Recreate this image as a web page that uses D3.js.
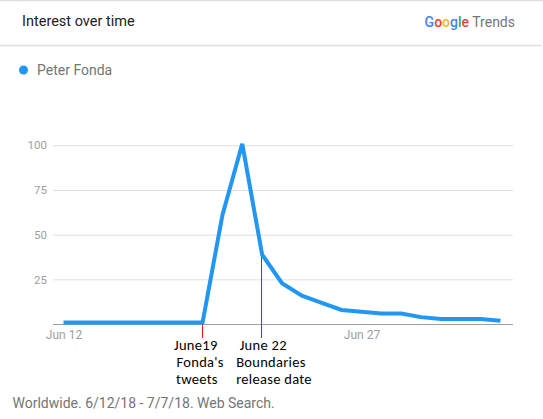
<!DOCTYPE html>
<html><head><meta charset="utf-8">
<script src="https://cdn.jsdelivr.net/npm/d3@7"></script>
<style>
html,body{margin:0;padding:0;background:#fff;}
svg{display:block;}
</style></head>
<body>
<script>
// ---- data ----
const dates = ["2018-06-12","2018-06-13","2018-06-14","2018-06-15","2018-06-16","2018-06-17","2018-06-18","2018-06-19","2018-06-20","2018-06-21","2018-06-22","2018-06-23","2018-06-24","2018-06-25","2018-06-26","2018-06-27","2018-06-28","2018-06-29","2018-06-30","2018-07-01","2018-07-02","2018-07-03","2018-07-04"];
const values = [0,0,0,0,0,0,0,0,60,100,38,22,15,11,7,6,5,5,3,2,2,2,1];
const yTicks = [25,50,75,100];
const xTickDates = ["2018-06-12","2018-06-27"];
const xTickLabels = ["Jun 12","Jun 27"];
const seriesName = "Peter Fonda";
const annotationDates = ["2018-06-19","2018-06-22"];
const annotationLines = [["June19","Fonda's","tweets"],["June 22","Boundaries","release date"]];
const footer = "Worldwide. 6/12/18 - 7/7/18. Web Search.";

// layout (offsets of annotation text lines from the marker, px)
const annotationOffsets = [[-28.5,-26,-26.5],[-22.5,-26,-26]];

const W = 543, H = 419;
const parse = d3.utcParse("%Y-%m-%d");
const data = dates.map((d,i)=>({date:parse(d), value:values[i]}));

const svg = d3.select("body").append("svg").attr("width",W).attr("height",H);

// frame lines
svg.append("line").attr("x1",0).attr("x2",W).attr("y1",0.5).attr("y2",0.5).attr("stroke","#e0e0e0").attr("stroke-width",1.5);
svg.append("line").attr("x1",0).attr("x2",W-1).attr("y1",45.5).attr("y2",45.5).attr("stroke","#e0e0e0").attr("stroke-width",1.5);

// header
svg.append("text").attr("x",22).attr("y",26).text("Interest over time")
  .attr("font-family","Roboto, sans-serif").attr("font-size",14.5).attr("fill","#212121");

const logo = svg.append("text").attr("x",515).attr("y",27).attr("text-anchor","end")
  .attr("font-family","Roboto, sans-serif").attr("font-size",14);
const gl = [["G","#4285F4"],["o","#EA4335"],["o","#FBBC05"],["g","#4285F4"],["l","#34A853"],["e","#EA4335"]];
gl.forEach(([c,col])=>logo.append("tspan").text(c).attr("fill",col).attr("font-weight",500));
logo.append("tspan").text(" Trends").attr("fill","#757575");

// legend
svg.append("circle").attr("cx",23.5).attr("cy",70).attr("r",4.5).attr("fill","#2196F3");
svg.append("text").attr("x",37).attr("y",75).text(seriesName)
  .attr("font-family","Roboto, sans-serif").attr("font-size",14).attr("fill","#757575");

// scales
const x = d3.scaleUtc().domain([parse(dates[0]), parse(dates[dates.length-1])]).range([63.5, 500.5]);
const y = d3.scaleLinear().domain([0,100]).range([324, 145.3]);
const plotX0 = 53, plotX1 = 513;

// gridlines + y labels
const yAxis = d3.axisLeft(y).tickValues(yTicks).tickSize(0).tickPadding(6);
const gy = svg.append("g").attr("transform",`translate(${plotX0},0)`).call(yAxis);
gy.select(".domain").remove();
gy.selectAll("text").attr("font-family","Roboto, sans-serif").attr("font-size",11.5).attr("fill","#9e9e9e");
gy.selectAll(".tick").append("line").attr("x1",0).attr("x2",plotX1-plotX0).attr("stroke","#e0e0e0").attr("stroke-width",1);

// x axis
const xAxis = d3.axisBottom(x).tickValues(xTickDates.map(parse)).tickFormat((d,i)=>xTickLabels[i]).tickSize(0).tickPadding(6);
const gx = svg.append("g").attr("transform",`translate(0,${y(0)})`).call(xAxis);
gx.select(".domain").remove();
gx.append("line").attr("x1",plotX0).attr("x2",plotX1).attr("y1",0.5).attr("y2",0.5).attr("stroke","#9e9e9e").attr("stroke-width",1);
gx.selectAll("text").attr("font-family","Roboto, sans-serif").attr("font-size",12).attr("fill","#9e9e9e");

// annotation lines
annotationDates.forEach(ad=>{
  const d = parse(ad);
  const v = values[dates.indexOf(ad)];
  const px = Math.round(x(d))-0.5;
  svg.append("line").attr("x1",px).attr("x2",px)
    .attr("y1",y(v)-1.5).attr("y2",338).attr("stroke","#e8141c").attr("stroke-width",1);
});

// series line
const line = d3.line().x(d=>x(d.date)).y(d=>y(d.value));
svg.append("path").datum(data).attr("d",line).attr("fill","none")
  .attr("stroke","#2196F3").attr("stroke-width",4).attr("stroke-linejoin","miter")
  .attr("transform","translate(0,-1.5)");

// annotation text
annotationDates.forEach((ad,k)=>{
  const d = parse(ad);
  const t = svg.append("text").attr("font-family","Carlito, Calibri, Lato, sans-serif").attr("font-size",14.5)
    .attr("letter-spacing",0.3).attr("fill","#000");
  annotationLines[k].forEach((s,i)=>{
    t.append("tspan").attr("x",x(d)+annotationOffsets[k][i]).attr("y",350+i*17).text(s);
  });
});

// footer
svg.append("text").attr("x",12.5).attr("y",407.5).text(footer)
  .attr("font-family","Roboto, sans-serif").attr("font-size",14).attr("fill","#757575");
</script>
</body></html>
